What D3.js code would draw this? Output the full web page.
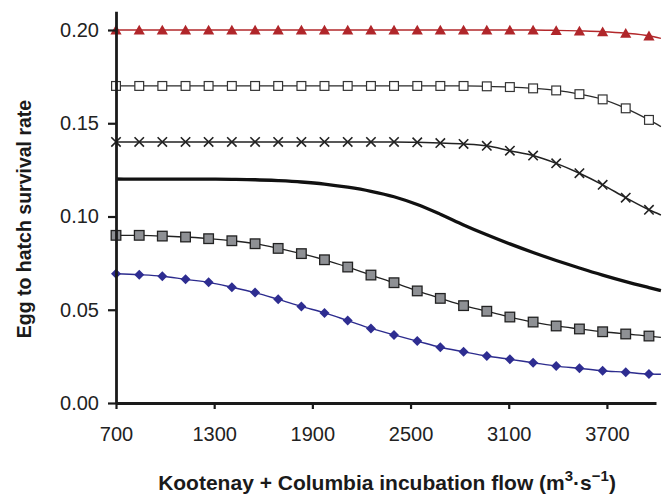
<!DOCTYPE html>
<html>
<head>
<meta charset="utf-8">
<script src="https://cdn.jsdelivr.net/npm/d3@7"></script>
<style>
  body { margin: 0; background: #fff; }
  svg { display: block; font-family: "Liberation Sans", Arial, Helvetica, sans-serif; }
</style>
</head>
<body>
<svg id="chart"></svg>
<script>
var width = 669, height = 497;
var svg = d3.select("#chart").attr("width", width).attr("height", height);

// flows in m3/s (5000 cfs steps), last value only used to finish the lines
var flows = [700, 842, 983, 1125, 1266, 1408, 1550, 1691, 1833, 1974, 2116, 2258,
             2399, 2541, 2682, 2824, 2966, 3107, 3249, 3390, 3532, 3674, 3815, 3957, 4030];
var xTicks = [700, 1300, 1900, 2500, 3100, 3700];
var yTicks = [0, 0.05, 0.10, 0.15, 0.20];

var redTriangles = [0.200, 0.200, 0.200, 0.200, 0.200, 0.200, 0.200, 0.200, 0.200, 0.200, 0.200, 0.200,
                    0.200, 0.200, 0.200, 0.200, 0.200, 0.200, 0.200, 0.1998, 0.1995, 0.1991, 0.1983, 0.1969, 0.1955];
var openSquares = [0.170, 0.170, 0.170, 0.170, 0.170, 0.170, 0.170, 0.170, 0.170, 0.170, 0.170, 0.170,
                   0.170, 0.170, 0.170, 0.170, 0.1698, 0.1694, 0.1687, 0.1676, 0.1656, 0.1628, 0.158, 0.1518, 0.1482];
var crosses = [0.140, 0.140, 0.140, 0.140, 0.140, 0.140, 0.140, 0.140, 0.140, 0.140, 0.140, 0.140,
               0.140, 0.1398, 0.1394, 0.1389, 0.1379, 0.1353, 0.1327, 0.1285, 0.1232, 0.117, 0.1101, 0.1036, 0.1008];
var thickLine = [0.1201, 0.120, 0.120, 0.120, 0.120, 0.1199, 0.1197, 0.1192, 0.1185, 0.1174, 0.1157, 0.1135,
                 0.1106, 0.1064, 0.1012, 0.0955, 0.0902, 0.0853, 0.0807, 0.0764, 0.0724, 0.0686, 0.0651, 0.0619, 0.0603];
var graySquares = [0.0899, 0.0899, 0.0895, 0.089, 0.0881, 0.087, 0.0854, 0.0829, 0.0801, 0.0768, 0.0729, 0.0686,
                   0.0645, 0.0601, 0.0561, 0.0522, 0.0492, 0.0461, 0.0434, 0.0413, 0.0397, 0.0382, 0.037, 0.0359, 0.0352];
var blueDiamonds = [0.0693, 0.0688, 0.068, 0.0663, 0.0647, 0.0621, 0.0592, 0.0556, 0.0518, 0.0483, 0.0442, 0.040,
                    0.0365, 0.0332, 0.0299, 0.0275, 0.0252, 0.0234, 0.0216, 0.0198, 0.0186, 0.0173, 0.0165, 0.0155, 0.0154];

var x = d3.scaleLinear().domain([700, 4000]).range([116, 656]);
var y = d3.scaleLinear().domain([0, 0.21]).range([403, 11.35]);

function pts(vals) {
    return vals.map(function (v, i) { return {x: flows[i], y: v}; });
}
var line = d3.line()
    .x(function (d) { return x(d.x); })
    .y(function (d) { return y(d.y); })
    .curve(d3.curveMonotoneX);

var series = [
    {vals: redTriangles, stroke: "#b3282b", width: 1.4, marker: "triangle"},
    {vals: openSquares, stroke: "#2a2a2a", width: 1.3, marker: "open"},
    {vals: crosses, stroke: "#222", width: 1.5, marker: "cross"},
    {vals: thickLine, stroke: "#111", width: 3.3, marker: null},
    {vals: graySquares, stroke: "#222", width: 1.3, marker: "gray"},
    {vals: blueDiamonds, stroke: "#2d2c8e", width: 1.4, marker: "diamond"}
];

var plot = svg.append("g");

series.forEach(function (s) {
    plot.append("path")
        .datum(pts(s.vals))
        .attr("fill", "none")
        .attr("stroke", s.stroke)
        .attr("stroke-width", s.width)
        .attr("d", line);
});

series.forEach(function (s) {
    if (!s.marker) return;
    var data = pts(s.vals).slice(0, flows.length - 1);
    var g = plot.append("g").selectAll("g")
        .data(data)
        .enter().append("g")
        .attr("transform", function (d) { return "translate(" + x(d.x) + "," + y(d.y) + ")"; });
    if (s.marker == "triangle") {
        g.append("path").attr("d", "M0,-5.2L5.6,4.6L-5.6,4.6Z").attr("fill", "#b0262a");
    } else if (s.marker == "open") {
        g.append("rect").attr("x", -4.4).attr("y", -4.4).attr("width", 8.8).attr("height", 8.8)
            .attr("fill", "#fff").attr("stroke", "#333").attr("stroke-width", 1.2);
    } else if (s.marker == "gray") {
        g.append("rect").attr("x", -4.8).attr("y", -4.8).attr("width", 9.6).attr("height", 9.6)
            .attr("fill", "#8e9094").attr("stroke", "#222").attr("stroke-width", 1.3);
    } else if (s.marker == "cross") {
        g.append("path").attr("d", "M-4.7,-4.7L4.7,4.7M-4.7,4.7L4.7,-4.7")
            .attr("stroke", "#222").attr("stroke-width", 1.6).attr("fill", "none");
    } else if (s.marker == "diamond") {
        g.append("path").attr("d", "M0,-5L5,0L0,5L-5,0Z").attr("fill", "#2e2d91");
    }
});

// axes
var yAxis = svg.append("g")
    .attr("transform", "translate(116,0)")
    .call(d3.axisLeft(y).tickValues(yTicks).tickFormat(d3.format(".2f")).tickSize(8).tickSizeOuter(0).tickPadding(9));
var xAxis = svg.append("g")
    .attr("transform", "translate(0,403)")
    .call(d3.axisBottom(x).tickValues(xTicks).tickFormat(d3.format("d")).tickSize(6).tickSizeOuter(0).tickPadding(18));

[yAxis, xAxis].forEach(function (a) {
    a.select(".domain").attr("stroke", "#1a1a1a").attr("stroke-width", 2.8);
    a.selectAll(".tick line").attr("stroke", "#1a1a1a").attr("stroke-width", 2.2);
    a.selectAll(".tick text")
        .attr("fill", "#222")
        .style("font-size", "20px")
        .style("font-family", "'Liberation Sans', Arial, sans-serif");
});

// axis titles
svg.append("text")
    .attr("transform", "translate(31,219) rotate(-90)")
    .attr("text-anchor", "middle")
    .style("font-size", "19.5px")
    .style("font-weight", "bold")
    .attr("fill", "#1a1a1a")
    .text("Egg to hatch survival rate");

var xt = svg.append("text")
    .attr("x", 387)
    .attr("y", 490)
    .attr("text-anchor", "middle")
    .style("font-size", "21px")
    .style("font-weight", "bold")
    .attr("fill", "#1a1a1a");
xt.append("tspan").text("Kootenay + Columbia incubation flow (m");
xt.append("tspan").attr("dy", -9).style("font-size", "15px").text("3");
xt.append("tspan").attr("dy", 9).text("·s");
xt.append("tspan").attr("dy", -9).style("font-size", "15px").text("−1");
xt.append("tspan").attr("dy", 9).text(")");
</script>
</body>
</html>
